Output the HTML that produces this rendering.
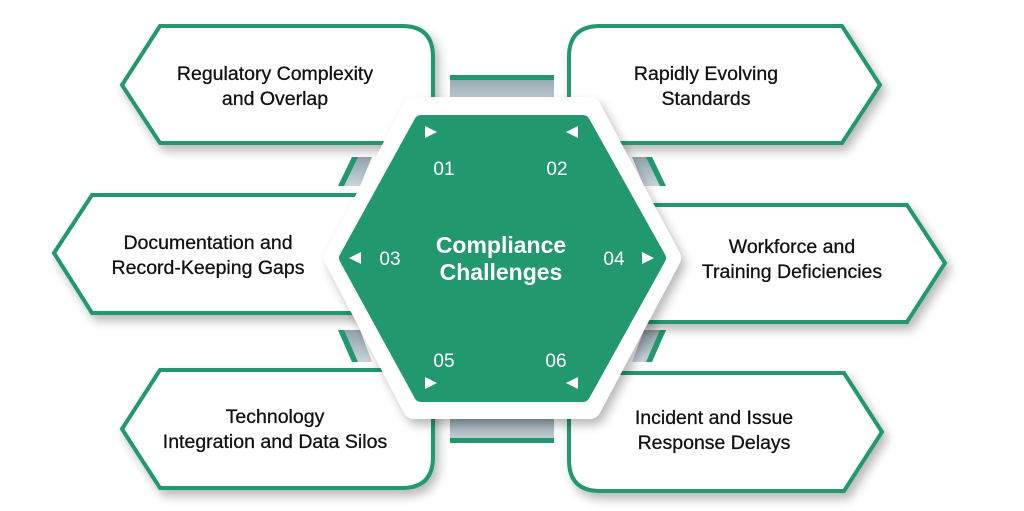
<!DOCTYPE html>
<html><head><meta charset="utf-8"><style>
html,body{margin:0;padding:0;background:#fff;width:1024px;height:511px;overflow:hidden}
text{font-family:"Liberation Sans",sans-serif}
</style></head><body>
<svg width="1024" height="511" viewBox="0 0 1024 511" xmlns="http://www.w3.org/2000/svg">
<defs>
<filter id="sh" x="-20%" y="-20%" width="140%" height="150%"><feDropShadow dx="4" dy="6" stdDeviation="5" flood-color="#000" flood-opacity="0.28"/></filter>
<linearGradient id="gb" x1="0" y1="0" x2="0" y2="1"><stop offset="0" stop-color="#8fa3ad"/><stop offset="1" stop-color="#c9d4d9"/></linearGradient>
</defs>
<rect x="450" y="75" width="104" height="30" fill="url(#gb)"/><rect x="450" y="75" width="104" height="5" fill="#22986f"/>
<rect x="450" y="413" width="104" height="30" fill="url(#gb)"/><rect x="450" y="438" width="104" height="5" fill="#22986f"/>
<polygon points="338,186 352,157 372,157 360,186" fill="url(#gb)"/><polygon points="338,186 352,157 358,157 344,186" fill="#22986f"/>
<polygon points="666,186 652,157 632,157 644,186" fill="url(#gb)"/><polygon points="666,186 652,157 646,157 660,186" fill="#22986f"/>
<polygon points="338,330 352,362 372,362 360,330" fill="url(#gb)"/><polygon points="338,330 352,362 358,362 344,330" fill="#22986f"/>
<polygon points="666,330 652,362 632,362 644,330" fill="url(#gb)"/><polygon points="666,330 652,362 646,362 660,330" fill="#22986f"/>
<g fill="#fff" stroke="#22986f" stroke-width="4" filter="url(#sh)">
<path d="M122,85 L160,26 L402,26 Q433,26 433,57 L433,143 L160,143 Z"/>
<path d="M880,85 L842,26 L600,26 Q569,26 569,57 L569,143 L842,143 Z"/>
<path d="M54,253 L92,195 L380,195 L380,313 L92,313 Z"/>
<path d="M945,263 L907,205 L640,205 L640,322 L907,322 Z"/>
<path d="M122,429 L160,370 L433,370 L433,457 Q433,488 402,488 L160,488 Z"/>
<path d="M882,432 L844,373 L569,373 L569,460 Q569,491 600,491 L844,491 Z"/>
</g>
<polygon points="335,258 414,108 590,108 670,258 590,408 414,408" fill="#fff" stroke="#fff" stroke-width="22" stroke-linejoin="round" filter="url(#sh)"/>
<polygon points="346,258 421,122 583,122 659,258 583,395 421,395" fill="#22986f" stroke="#22986f" stroke-width="14" stroke-linejoin="round"/>
<g fill="#fff">
<polygon points="425,126 437,132 425,138"/>
<polygon points="578,126 566,132 578,138"/>
<polygon points="361,252 349,258 361,264"/>
<polygon points="642,252 654,258 642,264"/>
<polygon points="425,377 437,383 425,389"/>
<polygon points="578,377 566,383 578,389"/>
</g>
<g fill="#fff" font-size="19" text-anchor="middle">
<text x="444" y="175">01</text><text x="557" y="175">02</text>
<text x="390" y="265">03</text><text x="614" y="265">04</text>
<text x="444" y="367">05</text><text x="556" y="367">06</text>
</g>
<g fill="#fff" font-size="23" font-weight="bold" text-anchor="middle">
<text x="501" y="253">Compliance</text><text x="501" y="280">Challenges</text>
</g>
<g fill="#111" font-size="19.5" text-anchor="middle" stroke="#111" stroke-width="0.3">
<text x="275" y="80">Regulatory Complexity</text><text x="275" y="105">and Overlap</text>
<text x="706" y="80">Rapidly Evolving</text><text x="706" y="105">Standards</text>
<text x="208" y="249">Documentation and</text><text x="208" y="274">Record-Keeping Gaps</text>
<text x="792" y="253">Workforce and</text><text x="792" y="278">Training Deficiencies</text>
<text x="275" y="423">Technology</text><text x="275" y="448">Integration and Data Silos</text>
<text x="714" y="424">Incident and Issue</text><text x="714" y="449">Response Delays</text>
</g>
</svg>
</body></html>
